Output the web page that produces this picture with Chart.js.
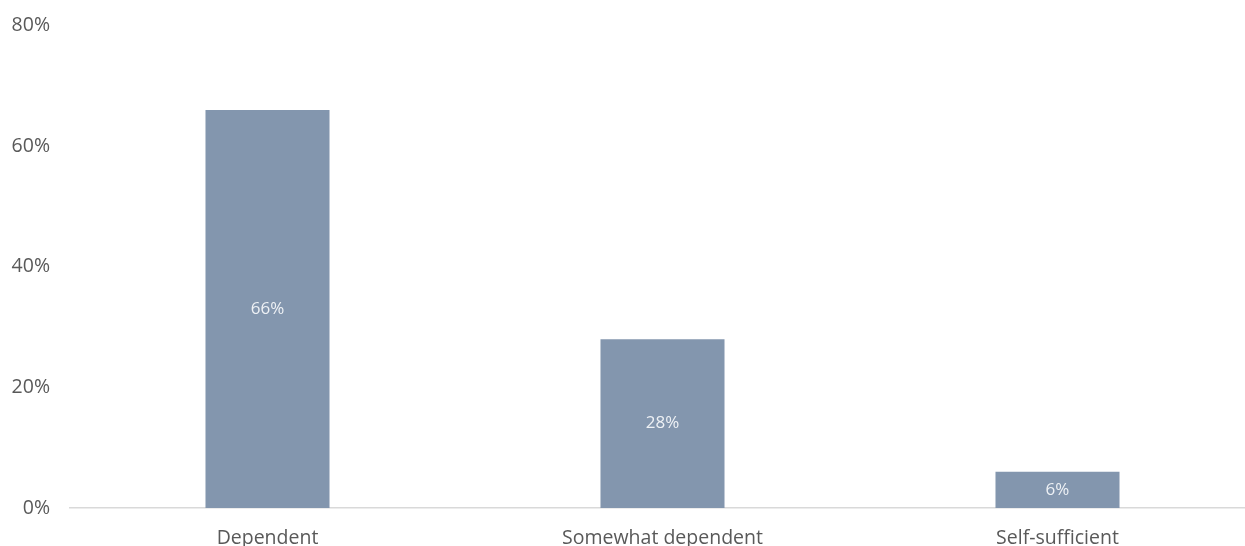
<!DOCTYPE html>
<html>
<head>
<meta charset="utf-8">
<script src="https://cdn.jsdelivr.net/npm/chart.js@4/dist/chart.umd.min.js"></script>
<style>
  html, body { margin: 0; padding: 0; background: #ffffff; overflow: hidden; }
  #wrap { width: 1255px; height: 552px; margin-top: -6px; }
  canvas { display: block; }
</style>
</head>
<body>
<div id="wrap"><canvas id="c" width="1255" height="552"></canvas></div>
<script>
const categories = ["Dependent", "Somewhat dependent", "Self-sufficient"];
const shares = [66, 28, 6];
const yTicks = [0, 20, 40, 60, 80];

const barColor = "#8396ae";
const textColor = "#595959";
const fontFamily = "'Open Sans', 'Noto Sans', sans-serif";

const centerLabels = {
  id: "centerLabels",
  afterDatasetsDraw(chart) {
    const ctx = chart.ctx;
    const meta = chart.getDatasetMeta(0);
    ctx.save();
    ctx.fillStyle = "#eef1f5";
    ctx.font = "17px " + fontFamily;
    ctx.textAlign = "center";
    ctx.textBaseline = "middle";
    meta.data.forEach((bar, i) => {
      const p = bar.getProps(["x", "y", "base"], true);
      ctx.fillText(shares[i] + "%", p.x, (p.y + p.base) / 2);
    });
    ctx.restore();
  }
};

new Chart(document.getElementById("c"), {
  type: "bar",
  data: {
    labels: categories,
    datasets: [{
      data: shares,
      backgroundColor: barColor,
      borderWidth: 0,
      categoryPercentage: 1,
      barPercentage: 0.314
    }]
  },
  options: {
    responsive: false,
    animation: false,
    layout: { padding: { top: 11, right: 0, bottom: 0, left: 0 } },
    plugins: { legend: { display: false }, tooltip: { enabled: false } },
    scales: {
      x: {
        afterFit(scale) { scale.height = 38; },
        grid: { display: false, drawTicks: false },
        border: { display: true, color: "#d9d9d9", width: 1.5 },
        ticks: { color: textColor, font: { family: fontFamily, size: 19.5 }, padding: 19, maxRotation: 0 }
      },
      y: {
        min: 0, max: 80,
        afterFit(scale) { scale.width = 70; },
        afterBuildTicks(scale) { scale.ticks = yTicks.map(v => ({ value: v })); },
        grid: { display: false, drawTicks: false },
        border: { display: false },
        ticks: { color: textColor, font: { family: fontFamily, size: 19.5 }, padding: 20, callback: v => v + "%" }
      }
    }
  },
  plugins: [centerLabels]
});
</script>
</body>
</html>
